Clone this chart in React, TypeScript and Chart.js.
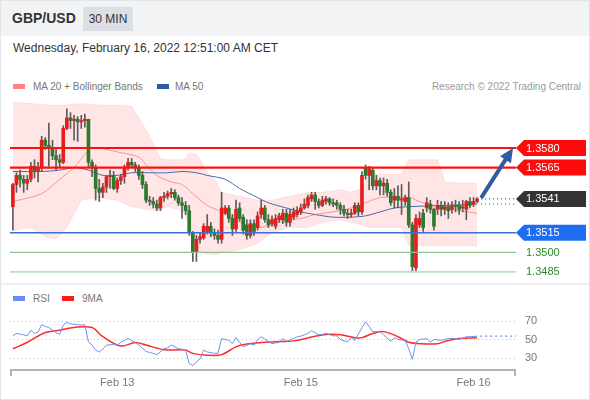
import React, { useEffect, useRef } from "react";
import { Chart, registerables } from "chart.js";
Chart.register(...registerables);

const FONT = "Arial, 'Liberation Sans', Helvetica, sans-serif";

// ---- 30 min candles (index 0 .. 129) ----
const opens = [
  1.3535, 1.3552, 1.3559, 1.3556, 1.3553, 1.3556, 1.3566, 1.3562, 1.3565, 1.3586,
  1.3582, 1.3580, 1.3574, 1.3571, 1.3569, 1.3595, 1.3603, 1.3601, 1.3602, 1.3600,
  1.3601, 1.3602, 1.3569, 1.3565, 1.3549, 1.3546, 1.3550, 1.3558, 1.3559, 1.3549,
  1.3555, 1.3558, 1.3565, 1.3569, 1.3567, 1.3565, 1.3559, 1.3552, 1.3540, 1.3539,
  1.3537, 1.3534, 1.3542, 1.3543, 1.3545, 1.3546, 1.3542, 1.3538, 1.3536, 1.3532,
  1.3515, 1.3500, 1.3510, 1.3511, 1.3516, 1.3520, 1.3515, 1.3513, 1.3510, 1.3530,
  1.3534, 1.3526, 1.3518, 1.3534, 1.3527, 1.3521, 1.3513, 1.3522, 1.3519, 1.3529,
  1.3534, 1.3525, 1.3522, 1.3520, 1.3525, 1.3525, 1.3530, 1.3523, 1.3527, 1.3529,
  1.3531, 1.3534, 1.3536, 1.3541, 1.3544, 1.3539, 1.3536, 1.3539, 1.3541, 1.3538,
  1.3538, 1.3536, 1.3533, 1.3530, 1.3529, 1.3530, 1.3536, 1.3531, 1.3565, 1.3559,
  1.3563, 1.3551, 1.3555, 1.3551, 1.3553, 1.3546, 1.3540, 1.3543, 1.3540, 1.3539,
  1.3542, 1.3521, 1.3488, 1.3521, 1.3530, 1.3534, 1.3537, 1.3533, 1.3533, 1.3536,
  1.3533, 1.3535, 1.3533, 1.3536, 1.3536, 1.3534, 1.3533, 1.3539, 1.3537, 1.3539,
];
const closes = [
  1.3552, 1.3559, 1.3556, 1.3553, 1.3556, 1.3566, 1.3562, 1.3565, 1.3586, 1.3582,
  1.3580, 1.3574, 1.3571, 1.3569, 1.3595, 1.3603, 1.3601, 1.3602, 1.3600, 1.3601,
  1.3602, 1.3569, 1.3565, 1.3549, 1.3546, 1.3550, 1.3558, 1.3559, 1.3549, 1.3555,
  1.3558, 1.3565, 1.3569, 1.3567, 1.3565, 1.3559, 1.3552, 1.3540, 1.3539, 1.3537,
  1.3534, 1.3542, 1.3543, 1.3545, 1.3546, 1.3542, 1.3538, 1.3536, 1.3532, 1.3515,
  1.3500, 1.3510, 1.3512, 1.3520, 1.3520, 1.3515, 1.3513, 1.3510, 1.3534, 1.3534,
  1.3526, 1.3518, 1.3533, 1.3526, 1.3517, 1.3513, 1.3522, 1.3516, 1.3528, 1.3534,
  1.3525, 1.3521, 1.3525, 1.3526, 1.3528, 1.3530, 1.3523, 1.3529, 1.3531, 1.3532,
  1.3534, 1.3537, 1.3542, 1.3544, 1.3539, 1.3536, 1.3540, 1.3541, 1.3538, 1.3537,
  1.3536, 1.3533, 1.3530, 1.3529, 1.3530, 1.3536, 1.3531, 1.3559, 1.3559, 1.3564,
  1.3551, 1.3555, 1.3551, 1.3553, 1.3546, 1.3538, 1.3543, 1.3540, 1.3541, 1.3542,
  1.3521, 1.3489, 1.3526, 1.3526, 1.3519, 1.3538, 1.3533, 1.3520, 1.3536, 1.3533,
  1.3535, 1.3532, 1.3536, 1.3535, 1.3533, 1.3535, 1.3539, 1.3536, 1.3539, 1.3541,
];
const highs = [
  1.3553, 1.3561, 1.3563, 1.3559, 1.3559, 1.3569, 1.3571, 1.3569, 1.3589, 1.3588,
  1.3599, 1.3586, 1.3579, 1.3575, 1.3597, 1.3610, 1.3607, 1.3605, 1.3604, 1.3605,
  1.3606, 1.3602, 1.3571, 1.3567, 1.3556, 1.3553, 1.3559, 1.3563, 1.3562, 1.3557,
  1.3560, 1.3567, 1.3572, 1.3572, 1.3569, 1.3567, 1.3562, 1.3554, 1.3543, 1.3542,
  1.3540, 1.3543, 1.3546, 1.3547, 1.3549, 1.3548, 1.3544, 1.3542, 1.3539, 1.3536,
  1.3516, 1.3513, 1.3515, 1.3522, 1.3529, 1.3523, 1.3518, 1.3517, 1.3546, 1.3536,
  1.3536, 1.3529, 1.3540, 1.3538, 1.3529, 1.3525, 1.3525, 1.3525, 1.3531, 1.3540,
  1.3536, 1.3529, 1.3528, 1.3529, 1.3530, 1.3533, 1.3533, 1.3533, 1.3534, 1.3535,
  1.3537, 1.3541, 1.3544, 1.3546, 1.3546, 1.3541, 1.3543, 1.3543, 1.3542, 1.3541,
  1.3540, 1.3538, 1.3536, 1.3533, 1.3533, 1.3538, 1.3538, 1.3562, 1.3567, 1.3566,
  1.3565, 1.3559, 1.3557, 1.3557, 1.3556, 1.3548, 1.3549, 1.3551, 1.3552, 1.3544,
  1.3554, 1.3523, 1.3529, 1.3531, 1.3533, 1.3542, 1.3540, 1.3534, 1.3540, 1.3539,
  1.3539, 1.3538, 1.3539, 1.3540, 1.3539, 1.3540, 1.3540, 1.3542, 1.3542, 1.3542,
];
const lows = [
  1.3517, 1.3546, 1.3550, 1.3546, 1.3548, 1.3554, 1.3557, 1.3554, 1.3562, 1.3579,
  1.3566, 1.3571, 1.3563, 1.3565, 1.3568, 1.3594, 1.3595, 1.3586, 1.3585, 1.3595,
  1.3596, 1.3565, 1.3558, 1.3540, 1.3539, 1.3542, 1.3546, 1.3549, 1.3548, 1.3546,
  1.3552, 1.3553, 1.3563, 1.3565, 1.3562, 1.3556, 1.3549, 1.3538, 1.3536, 1.3534,
  1.3532, 1.3532, 1.3539, 1.3541, 1.3542, 1.3540, 1.3536, 1.3526, 1.3529, 1.3513,
  1.3493, 1.3493, 1.3507, 1.3510, 1.3514, 1.3512, 1.3510, 1.3507, 1.3507, 1.3529,
  1.3523, 1.3513, 1.3516, 1.3524, 1.3514, 1.3510, 1.3511, 1.3513, 1.3517, 1.3526,
  1.3523, 1.3519, 1.3520, 1.3518, 1.3523, 1.3522, 1.3520, 1.3520, 1.3525, 1.3527,
  1.3529, 1.3533, 1.3534, 1.3539, 1.3533, 1.3534, 1.3535, 1.3537, 1.3536, 1.3535,
  1.3533, 1.3529, 1.3528, 1.3526, 1.3527, 1.3529, 1.3528, 1.3529, 1.3556, 1.3548,
  1.3548, 1.3548, 1.3544, 1.3544, 1.3543, 1.3536, 1.3534, 1.3534, 1.3529, 1.3536,
  1.3519, 1.3485, 1.3485, 1.3519, 1.3516, 1.3531, 1.3530, 1.3517, 1.3529, 1.3528,
  1.3529, 1.3526, 1.3530, 1.3531, 1.3529, 1.3531, 1.3525, 1.3534, 1.3535, 1.3538,
];

// ---- Bollinger bands (MA 20) read at candle indices ----
const bandIdx = [0, 5, 9, 12, 15, 19, 24, 29, 33, 37, 39, 41, 43, 47, 48, 49, 51, 52, 54, 56, 58, 63, 68, 72, 77, 82, 86, 91, 94, 97, 99, 101, 108, 110, 118, 120, 125, 129];
const bandUpper = [1.3615, 1.3614, 1.3613, 1.3613, 1.3613, 1.3614, 1.3613, 1.3613, 1.3612, 1.3594, 1.3584, 1.3572, 1.3571, 1.3571, 1.3572, 1.3576, 1.3575, 1.3571, 1.3561, 1.3556, 1.3546, 1.3543, 1.3540, 1.3540, 1.3543, 1.3546, 1.3546, 1.3548, 1.3546, 1.3549, 1.3560, 1.3560, 1.3560, 1.3571, 1.3571, 1.3554, 1.3553, 1.3553];
const bandLower = [1.3517, 1.3519, 1.3512, 1.3510, 1.3519, 1.3540, 1.3542, 1.3540, 1.3535, 1.3533, 1.3532, 1.3533, 1.3535, 1.3532, 1.3529, 1.3515, 1.3503, 1.3500, 1.3499, 1.3498, 1.3500, 1.3502, 1.3507, 1.3515, 1.3519, 1.3519, 1.3523, 1.3525, 1.3523, 1.3521, 1.3519, 1.3519, 1.3519, 1.3505, 1.3505, 1.3505, 1.3505, 1.3505];

const ma20Idx = [0, 8, 13, 17, 20, 22, 24, 29, 35, 37, 40, 44, 47, 50, 54, 59, 63, 68, 73, 76, 80, 84, 89, 94, 98, 102, 106, 110, 114, 119, 124, 129];
const ma20 = [1.3539, 1.3545, 1.3556, 1.3565, 1.3575, 1.3580, 1.3580, 1.3577, 1.3573, 1.3567, 1.3559, 1.3554, 1.3552, 1.3545, 1.3536, 1.3530, 1.3523, 1.3519, 1.3522, 1.3525, 1.3526, 1.3529, 1.3531, 1.3534, 1.3538, 1.3542, 1.3542, 1.3542, 1.3538, 1.3535, 1.3532, 1.3530];

const ma50Idx = [0, 8, 13, 17, 21, 25, 29, 33, 38, 43, 47, 51, 54, 59, 63, 68, 71, 76, 80, 84, 89, 94, 98, 102, 106, 110, 120, 129];
const ma50 = [1.3562, 1.3562, 1.3563, 1.3565, 1.3563, 1.3559, 1.3559, 1.3561, 1.3561, 1.3561, 1.3562, 1.3561, 1.3559, 1.3556, 1.3549, 1.3542, 1.3538, 1.3534, 1.3531, 1.3529, 1.3527, 1.3527, 1.3528, 1.3531, 1.3534, 1.3535, 1.3536, 1.3537];

// ---- RSI panel ----
const rsiIdx = [0, 1, 3, 4, 5, 6, 7, 8, 9, 10, 11, 12, 13, 14, 15, 16, 18, 19, 20, 21, 22, 23, 24, 25, 26, 28, 29, 30, 32, 33, 35, 37, 38, 40, 42, 43, 44, 46, 47, 48, 49, 50, 52, 53, 54, 56, 57, 58, 60, 61, 62, 63, 64, 66, 67, 68, 69, 71, 72, 74, 75, 76, 78, 79, 80, 82, 83, 85, 86, 87, 89, 90, 91, 93, 94, 95, 97, 98, 99, 100, 102, 103, 105, 106, 107, 109, 110, 111, 112, 113, 115, 116, 117, 119, 121, 123, 124, 126, 127, 129];
const rsiValues = [54, 56.5, 55, 54, 60, 56.5, 58, 66, 64, 63, 60, 57.5, 55.5, 65.5, 68.5, 67, 66, 65.5, 66, 47.5, 44, 38.5, 36.5, 39.5, 44, 44.5, 44, 47, 51, 49, 44, 37, 36, 33.6, 40, 41, 44, 40, 39.5, 38.5, 24, 22, 29, 38.5, 36.5, 35, 35, 51, 49, 45.5, 52, 47, 42, 45.5, 44, 50, 53, 48, 45.5, 47, 51, 48, 51, 53, 53.6, 56.5, 59.5, 55, 55.5, 56.5, 54, 54, 50, 47.5, 52, 49, 63, 69, 64, 58.5, 58.5, 55, 48, 52, 50, 49, 40, 28.5, 47.5, 50, 51, 47, 50, 49, 51, 51, 50, 53, 53, 53.6];
const rsiMaIdx = [0, 4, 9, 13, 17, 22, 25, 30, 34, 37, 42, 48, 50, 54, 58, 62, 65, 69, 73, 78, 84, 87, 91, 95, 97, 100, 103, 107, 110, 113, 118, 121, 124, 129];
const rsiMaValues = [40, 47, 57.5, 60, 63, 63, 53, 43, 46.7, 44, 39, 38.5, 35, 33, 33.6, 42, 45, 46.7, 47.5, 48.5, 53.6, 55.5, 55, 52, 52, 56.5, 58.5, 53, 47, 45.5, 45.5, 49, 51, 52];
const rsiLevels = [30, 50, 70];

// ---- time axis ----
const tickIdx = [29, 80, 128];
const tickLabels = ["Feb 13", "Feb 15", "Feb 16"];

// ---- key levels ----
const resistanceLevels = [1.358, 1.3565];
const supportLevels = [1.3515];
const targetLevels = [1.35, 1.3485];
const arrowTarget = 1.358;

const X_MIN = -0.8;
const X_MAX = 139.8;
const UP = "#e61d1d";
const DOWN = "#2b7b2b";

function drawTag(ctx: CanvasRenderingContext2D, xTip: number, y: number, text: string, bg: string | null, fg: string) {
  ctx.save();
  if (bg) {
    ctx.fillStyle = bg;
    ctx.beginPath();
    ctx.moveTo(xTip, y);
    ctx.lineTo(xTip + 8, y - 8);
    ctx.lineTo(xTip + 70, y - 8);
    ctx.lineTo(xTip + 70, y + 8);
    ctx.lineTo(xTip + 8, y + 8);
    ctx.closePath();
    ctx.fill();
  }
  ctx.fillStyle = fg;
  ctx.font = "11px " + FONT;
  ctx.textBaseline = "middle";
  ctx.textAlign = "left";
  ctx.fillText(text, xTip + 10, y + 0.5);
  ctx.restore();
}

const levelsPlugin = {
  id: "levels",
  afterDatasetsDraw(chart: any) {
    const { ctx, chartArea: a, scales } = chart;
    const xs = scales.x;
    const ys = scales.y;
    const n = closes.length;
    const hline = (v: number, color: string, w: number, dash: number[] = [], x0 = a.left) => {
      const y = ys.getPixelForValue(v);
      ctx.save();
      ctx.strokeStyle = color;
      ctx.lineWidth = w;
      ctx.setLineDash(dash);
      ctx.beginPath();
      ctx.moveTo(x0, y);
      ctx.lineTo(a.right, y);
      ctx.stroke();
      ctx.restore();
    };
    resistanceLevels.forEach((v) => hline(v, "#ff1010", 2.2));
    supportLevels.forEach((v) => hline(v, "#3b6fd9", 1.5));
    hline(targetLevels[0], "#8bc38b", 1.3);
    hline(targetLevels[1], "#bfe0bf", 1.8);

    const xLast = xs.getPixelForValue(n - 1) + 4;
    hline(closes[n - 1], "#333333", 1, [1, 3], xLast);
    hline(ma50[ma50.length - 1], "#2d5b9c", 1, [1, 3], xLast);

    // arrow
    const x0 = xLast;
    const y0 = ys.getPixelForValue(closes[n - 1]) - 1;
    const x1 = a.right - 3;
    const y1 = ys.getPixelForValue(arrowTarget);
    const ang = Math.atan2(y1 - y0, x1 - x0);
    const headLen = 14;
    const headW = 6.5;
    const bx = x1 - headLen * Math.cos(ang);
    const by = y1 - headLen * Math.sin(ang);
    ctx.save();
    ctx.strokeStyle = "#2f5e9e";
    ctx.fillStyle = "#2f5e9e";
    ctx.lineWidth = 4;
    ctx.beginPath();
    ctx.moveTo(x0, y0);
    ctx.lineTo(bx + Math.cos(ang), by + Math.sin(ang));
    ctx.stroke();
    ctx.beginPath();
    ctx.moveTo(x1, y1);
    ctx.lineTo(bx + headW * Math.sin(ang), by - headW * Math.cos(ang));
    ctx.lineTo(bx - headW * Math.sin(ang), by + headW * Math.cos(ang));
    ctx.closePath();
    ctx.fill();
    ctx.restore();

    // tags
    resistanceLevels.forEach((v) => drawTag(ctx, a.right, ys.getPixelForValue(v), v.toFixed(4), "#fe0b0b", "#ffffff"));
    drawTag(ctx, a.right, ys.getPixelForValue(closes[n - 1]), closes[n - 1].toFixed(4), "#333333", "#ffffff");
    supportLevels.forEach((v) => drawTag(ctx, a.right, ys.getPixelForValue(v), v.toFixed(4), "#1f6cf0", "#ffffff"));
    targetLevels.forEach((v) => drawTag(ctx, a.right, ys.getPixelForValue(v), v.toFixed(4), null, "#2b8a2b"));
  },
};

// RSI panel axes: grid lines, y labels on the right and the time axis, all placed with the chart's scales
const rsiAxesPlugin = {
  id: "rsiAxes",
  beforeDatasetsDraw(chart: any) {
    const { ctx, chartArea: a, scales } = chart;
    const ys = scales.y;
    ctx.save();
    ctx.strokeStyle = "#c2c2c2";
    ctx.lineWidth = 1;
    ctx.setLineDash([1, 3]);
    rsiLevels.forEach((v) => {
      const y = Math.round(ys.getPixelForValue(v)) + 0.5;
      ctx.beginPath();
      ctx.moveTo(a.left, y);
      ctx.lineTo(a.right, y);
      ctx.stroke();
    });
    ctx.restore();
  },
  afterDatasetsDraw(chart: any) {
    const { ctx, chartArea: a, scales } = chart;
    const xs = scales.x;
    const ys = scales.y;
    const lastI = rsiIdx[rsiIdx.length - 1];
    const lastV = rsiValues[rsiValues.length - 1];
    const yl = ys.getPixelForValue(lastV);
    ctx.save();
    // dotted extension of RSI
    ctx.strokeStyle = "#6a8cf0";
    ctx.lineWidth = 1.2;
    ctx.setLineDash([2, 3]);
    ctx.beginPath();
    ctx.moveTo(xs.getPixelForValue(lastI) + 3, yl);
    ctx.lineTo(a.right, yl);
    ctx.stroke();
    ctx.setLineDash([]);
    // y labels
    ctx.fillStyle = "#777777";
    ctx.font = "11px " + FONT;
    ctx.textAlign = "left";
    ctx.textBaseline = "middle";
    rsiLevels.forEach((v) => ctx.fillText(String(v), a.right + 9, ys.getPixelForValue(v)));
    // time axis line with end ticks
    ctx.strokeStyle = "#b3b3b3";
    ctx.lineWidth = 2;
    ctx.beginPath();
    ctx.moveTo(a.left, a.bottom);
    ctx.lineTo(a.right, a.bottom);
    ctx.stroke();
    [a.left + 1, a.right - 1].forEach((xx) => {
      ctx.beginPath();
      ctx.moveTo(xx, a.bottom);
      ctx.lineTo(xx, a.bottom + 6);
      ctx.stroke();
    });
    // time labels
    ctx.textAlign = "center";
    tickIdx.forEach((v, k) => ctx.fillText(tickLabels[k], xs.getPixelForValue(v), a.bottom + 13));
    ctx.restore();
  },
};

export default function App() {
  const mainRef = useRef<HTMLCanvasElement>(null);
  const rsiRef = useRef<HTMLCanvasElement>(null);

  useEffect(() => {
    document.body.style.margin = "0";
    Chart.defaults.font.family = FONT;
    const idx = closes.map((_, i) => i);

    const main = new Chart(mainRef.current as HTMLCanvasElement, {
      type: "bar",
      data: {
        datasets: [
          {
            type: "line",
            data: bandIdx.map((x, k) => ({ x, y: bandUpper[k] })),
            borderColor: "rgba(255,120,120,0.15)",
            borderWidth: 1,
            pointRadius: 0,
            fill: false,
            order: 5,
          } as any,
          {
            type: "line",
            data: bandIdx.map((x, k) => ({ x, y: bandLower[k] })),
            borderColor: "rgba(255,120,120,0.15)",
            borderWidth: 1,
            pointRadius: 0,
            fill: "-1",
            backgroundColor: "rgba(255,40,40,0.12)",
            order: 5,
          } as any,
          {
            type: "line",
            data: ma20Idx.map((x, k) => ({ x, y: ma20[k] })),
            borderColor: "rgba(255,80,80,0.55)",
            borderWidth: 1,
            pointRadius: 0,
            tension: 0.3,
            fill: false,
            order: 3,
          } as any,
          {
            type: "line",
            data: ma50Idx.map((x, k) => ({ x, y: ma50[k] })),
            borderColor: "rgba(40,85,160,0.85)",
            borderWidth: 1,
            pointRadius: 0,
            tension: 0.3,
            fill: false,
            order: 3,
          } as any,
          {
            type: "bar",
            data: idx.map((i) => ({ x: i, y: [lows[i], highs[i]] })),
            backgroundColor: "#5c5c5c",
            barThickness: 1,
            grouped: false,
            order: 2,
          } as any,
          {
            type: "bar",
            data: idx.map((i) => ({ x: i, y: [opens[i], closes[i]] })),
            backgroundColor: idx.map((i) => (closes[i] >= opens[i] ? UP : DOWN)),
            barThickness: 3,
            grouped: false,
            order: 1,
          } as any,
        ],
      },
      options: {
        animation: false,
        responsive: false,
        maintainAspectRatio: false,
        events: [],
        layout: { padding: { left: 10, right: 74, top: 0, bottom: 0 } },
        plugins: { legend: { display: false }, tooltip: { enabled: false } },
        scales: {
          x: { type: "linear", min: X_MIN, max: X_MAX, offset: false, display: false },
          y: { type: "linear", min: 1.34773, max: 1.36229, display: false },
        },
      } as any,
      plugins: [levelsPlugin],
    });

    const rsi = new Chart(rsiRef.current as HTMLCanvasElement, {
      type: "line",
      data: {
        datasets: [
          {
            data: rsiIdx.map((x, k) => ({ x, y: rsiValues[k] })),
            borderColor: "#7090ee",
            borderWidth: 1,
            pointRadius: 0,
            tension: 0,
            fill: false,
          },
          {
            data: rsiMaIdx.map((x, k) => ({ x, y: rsiMaValues[k] })),
            borderColor: "#ff2b2b",
            borderWidth: 1.5,
            pointRadius: 0,
            tension: 0.35,
            fill: false,
          },
        ],
      },
      options: {
        animation: false,
        responsive: false,
        maintainAspectRatio: false,
        events: [],
        layout: { padding: { left: 10, right: 74, top: 0, bottom: 25 } },
        plugins: { legend: { display: false }, tooltip: { enabled: false } },
        scales: {
          x: { type: "linear", min: X_MIN, max: X_MAX, offset: false, display: false },
          y: { type: "linear", min: 17, max: 87.3, display: false },
        },
      } as any,
      plugins: [rsiAxesPlugin],
    });

    return () => {
      main.destroy();
      rsi.destroy();
    };
  }, []);

  const txt = (extra: React.CSSProperties): React.CSSProperties => ({
    position: "absolute",
    whiteSpace: "nowrap",
    fontFamily: FONT,
    ...extra,
  });

  return (
    <div style={{ position: "relative", width: 590, height: 400, background: "#ffffff", overflow: "hidden" }}>
      <div style={{ position: "absolute", left: 0, top: 0, width: 590, height: 36, background: "#f2f3f5" }} />
      <div style={txt({ left: 12, top: 9, fontSize: 14, fontWeight: "bold", color: "#333", lineHeight: "18px" })}>GBP/USD</div>
      <div
        style={txt({
          left: 83,
          top: 7,
          width: 50,
          height: 24,
          background: "#dcdfe4",
          fontSize: 12,
          color: "#333",
          lineHeight: "24px",
          textAlign: "center",
        })}
      >
        30 MIN
      </div>
      <div style={txt({ left: 13, top: 41, fontSize: 12, color: "#333", lineHeight: "14px" })}>
        Wednesday, February 16, 2022 12:51:00 AM CET
      </div>

      <div style={{ position: "absolute", left: 13, top: 84, width: 12, height: 5, background: "#ff8282" }} />
      <div style={txt({ left: 33, top: 80, fontSize: 10, color: "#777", lineHeight: "13px" })}>MA 20 + Bollinger Bands</div>
      <div style={{ position: "absolute", left: 157, top: 84, width: 12, height: 5, background: "#2d5b9c" }} />
      <div style={txt({ left: 175, top: 80, fontSize: 10, color: "#777", lineHeight: "13px" })}>MA 50</div>
      <div style={txt({ right: 9, top: 80, fontSize: 10, color: "#9a9a9a", lineHeight: "13px" })}>
        Research © 2022 Trading Central
      </div>

      <canvas ref={mainRef} width={590} height={190} style={{ position: "absolute", left: 0, top: 92 }} />

      <div style={{ position: "absolute", left: 0, top: 283, width: 590, height: 2, background: "#eceef1" }} />

      <div style={{ position: "absolute", left: 13, top: 296, width: 12, height: 5, background: "#6a8cf0" }} />
      <div style={txt({ left: 33, top: 292, fontSize: 10, color: "#777", lineHeight: "13px" })}>RSI</div>
      <div style={{ position: "absolute", left: 62, top: 296, width: 12, height: 5, background: "#ff1c1c" }} />
      <div style={txt({ left: 82, top: 292, fontSize: 10, color: "#777", lineHeight: "13px" })}>9MA</div>

      <canvas ref={rsiRef} width={590} height={90} style={{ position: "absolute", left: 0, top: 305 }} />

      <div
        style={{
          position: "absolute",
          left: 0,
          top: 0,
          width: 590,
          height: 400,
          boxSizing: "border-box",
          border: "1px solid #e3e4e6",
          pointerEvents: "none",
        }}
      />
    </div>
  );
}
